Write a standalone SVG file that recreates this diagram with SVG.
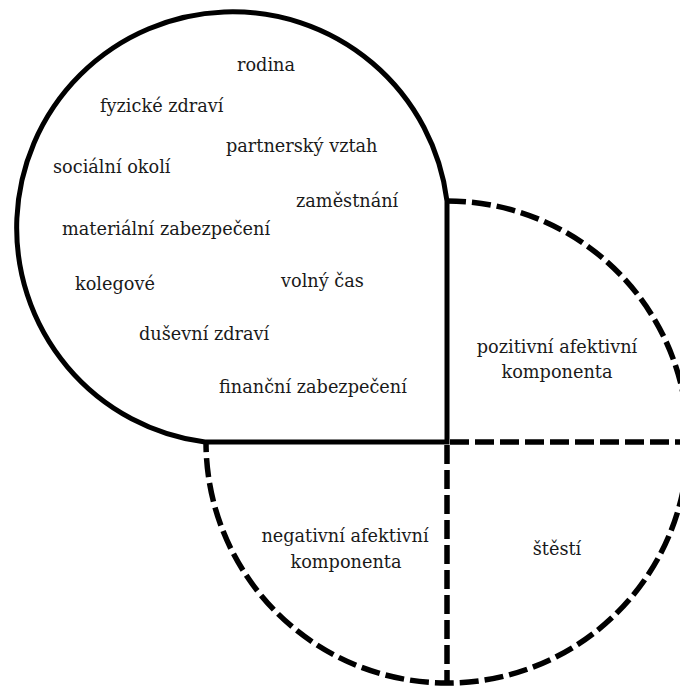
<svg xmlns="http://www.w3.org/2000/svg" width="680" height="687" viewBox="0 0 680 687">
<style>
.solid{fill:none;stroke:#000;stroke-width:5}
.dash{fill:none;stroke:#000;stroke-width:5.5;stroke-dasharray:19 6}
.t{font-family:'DejaVu Serif','Liberation Serif',serif;font-size:17.7px;fill:#1a1a1a}
.c{text-anchor:middle}
</style>
<rect width="680" height="687" fill="#fff"/>
<g id="connectors">
<path class="dash" d="M447,201 A241,241 0 1,1 206,442"/>
<path class="dash" d="M450,442 H680"/>
<path class="dash" d="M447,445 V683"/>
</g>
<g id="life-domains">
<path class="solid" d="M447,201 A216,216 0 1,0 205,442 L447,442 Z"/>
<g class="t">
<text x="237" y="71">rodina</text>
<text x="100" y="112">fyzické zdraví</text>
<text x="226" y="152">partnerský vztah</text>
<text x="53" y="173">sociální okolí</text>
<text x="296" y="207">zaměstnání</text>
<text x="62" y="235">materiální zabezpečení</text>
<text x="75" y="290">kolegové</text>
<text x="281" y="287">volný čas</text>
<text x="139" y="340">duševní zdraví</text>
<text x="219" y="393">finanční zabezpečení</text>
</g>
</g>
<g id="positive-affect" class="t">
<text class="c" x="557" y="353">pozitivní afektivní</text>
<text class="c" x="557" y="378">komponenta</text>
</g>
<g id="negative-affect" class="t">
<text class="c" x="345" y="542">negativní afektivní</text>
<text class="c" x="346" y="568">komponenta</text>
</g>
<g id="happiness" class="t">
<text class="c" x="557" y="555">štěstí</text>
</g>
</svg>
